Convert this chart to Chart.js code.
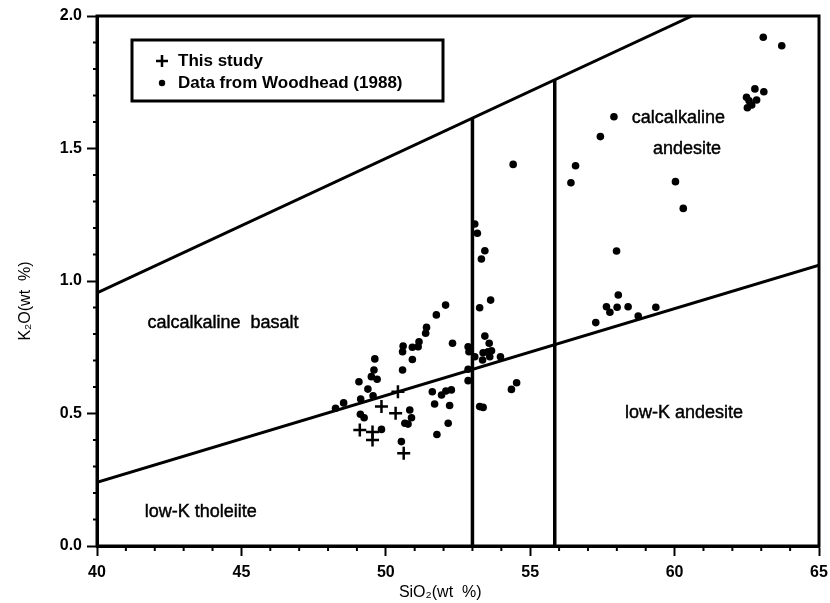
<!DOCTYPE html>
<html><head><meta charset="utf-8">
<script src="https://cdn.jsdelivr.net/npm/chart.js@4.4.0/dist/chart.umd.min.js"></script>
<style>html,body{margin:0;padding:0;background:#fff}canvas{display:block}</style>
</head><body>
<canvas id="c" width="830" height="603"></canvas>
<script>
// ---- data ----
const woodheadSiO2 = [
  48.26,48.54,49.13,49.07,49.38,49.56,49.12,49.25,49.85,49.50,49.70,49.59,49.62,
  50.58,50.92,50.58,50.60,50.92,51.12,51.15,51.38,51.41,51.75,52.07,52.31,
  50.83,50.89,50.66,50.77,50.54,51.61,51.93,52.08,52.27,51.69,52.21,52.16,51.77,
  53.08,53.17,53.43,53.31,53.63,53.25,53.43,53.58,52.85,52.88,53.37,53.54,53.66,
  53.60,53.35,53.97,53.08,52.85,52.85,54.53,54.35,53.25,53.37,54.41,
  57.90,57.43,56.57,56.41,60.03,60.30,57.99,58.05,63.07,63.71,62.78,63.09,62.49,
  62.58,62.84,62.52,62.67,57.64,57.76,58.01,58.39,58.74,59.35,57.27
];
const woodheadK2O = [
  0.520,0.540,0.555,0.620,0.592,0.567,0.497,0.484,0.440,0.639,0.629,0.664,0.706,
  0.664,0.704,0.733,0.755,0.750,0.752,0.771,0.803,0.825,0.872,0.909,0.765,
  0.513,0.484,0.463,0.460,0.394,0.582,0.570,0.585,0.589,0.536,0.530,0.463,0.421,
  1.215,1.180,1.114,1.083,0.928,0.899,0.792,0.765,0.752,0.733,0.729,0.733,0.737,
  0.714,0.702,0.714,0.714,0.667,0.624,0.616,0.591,0.526,0.523,1.440,
  1.620,1.545,1.435,1.371,1.375,1.274,1.113,0.947,1.920,1.888,1.725,1.714,1.693,
  1.680,1.683,1.654,1.664,0.903,0.882,0.901,0.903,0.868,0.901,0.843
];
const studySiO2 = [50.42,49.85,50.34,49.10,49.54,49.54,50.62];
const studyK2O  = [0.582,0.526,0.501,0.438,0.430,0.400,0.350];

// boundary lines of the classification diagram
const upperLineSiO2 = [40, 60.6];
const upperLineK2O  = [0.955, 2.0];
const lowerLineSiO2 = [40, 65];
const lowerLineK2O  = [0.24, 1.06];
const basaltLimitSiO2 = [53.0, 53.0];
const basaltLimitK2O  = [0, 1.615];
const andesiteLimitSiO2 = [55.85, 55.85];
const andesiteLimitK2O  = [0, 1.758];

const xTickLabels = [40, 45, 50, 55, 60, 65];
const yTickLabels = ['0.0', '0.5', '1.0', '1.5', '2.0'];
const regionNames = ['calcalkaline  basalt', 'low-K tholeiite', 'calcalkaline', 'andesite', 'low-K andesite'];
const regionSiO2  = [41.75, 41.65, 58.52, 59.25, 58.28];
const regionK2O   = [0.842, 0.128, 1.615, 1.498, 0.502];

const seriesNames = ['This study', 'Data from Woodhead (1988)'];

// ---- build ----
const pts = (xs, ys) => xs.map((x, i) => ({x, y: ys[i]}));
const FONT = "'Liberation Sans', Arial, Helvetica, sans-serif";
Chart.defaults.font.family = FONT;
Chart.defaults.color = '#000';

const lineDs = (xs, ys, w) => ({
  type: 'line', data: pts(xs, ys), showLine: true, borderColor: '#000',
  borderWidth: w, pointRadius: 0, fill: false, tension: 0, order: 3
});

const minorTicks = {
  id: 'minorTicks',
  afterDraw(chart) {
    const {ctx, chartArea: a, scales: {x, y}} = chart;
    ctx.save();
    ctx.strokeStyle = '#000';
    ctx.lineWidth = 3;
    ctx.strokeRect(a.left, a.top, a.right - a.left, a.bottom - a.top);
    ctx.lineWidth = 2;
    for (let v = 41; v < 65; v++) {
      if (v % 5 === 0) continue;
      const px = x.getPixelForValue(v);
      ctx.beginPath(); ctx.moveTo(px, a.bottom); ctx.lineTo(px, a.bottom + 5); ctx.stroke();
    }
    for (let k = 1; k < 20; k++) {
      if (k % 5 === 0) continue;
      const py = y.getPixelForValue(k / 10);
      ctx.beginPath(); ctx.moveTo(a.left, py); ctx.lineTo(a.left - 4, py); ctx.stroke();
    }
    // region labels
    ctx.fillStyle = '#000';
    ctx.font = '18px ' + FONT;
    ctx.textBaseline = 'middle';
    ctx.textAlign = 'left';
    ctx.lineWidth = 0.45;
    regionNames.forEach((t, i) => {
      const px = x.getPixelForValue(regionSiO2[i]), py = y.getPixelForValue(regionK2O[i]);
      ctx.fillText(t, px, py);
      ctx.strokeText(t, px, py);
    });
    // legend box
    const lx = a.left + 35, ly = a.top + 24, lw = 311, lh = 61;
    ctx.lineWidth = 3;
    ctx.strokeRect(lx, ly, lw, lh);
    ctx.font = 'bold 17px ' + FONT;
    const sx = lx + 30;
    ctx.lineWidth = 2.5;
    ctx.beginPath();
    ctx.moveTo(sx - 6, ly + 21); ctx.lineTo(sx + 6, ly + 21);
    ctx.moveTo(sx, ly + 15); ctx.lineTo(sx, ly + 27);
    ctx.stroke();
    ctx.fillText(seriesNames[0], lx + 46, ly + 21);
    ctx.beginPath(); ctx.arc(sx, ly + 43, 3.2, 0, Math.PI * 2); ctx.fill();
    ctx.fillText(seriesNames[1], lx + 46, ly + 43);
    ctx.restore();
  }
};

new Chart(document.getElementById('c'), {
  type: 'scatter',
  data: {
    datasets: [
      {label: seriesNames[0], data: pts(studySiO2, studyK2O), pointStyle: 'cross',
       pointRadius: 6.5, pointBorderWidth: 2.5, borderColor: '#000', backgroundColor: '#000', order: 1},
      {label: seriesNames[1], data: pts(woodheadSiO2, woodheadK2O), pointStyle: 'circle',
       pointRadius: 3.8, pointBorderWidth: 0, borderColor: '#000', backgroundColor: '#000', order: 2},
      lineDs(upperLineSiO2, upperLineK2O, 3),
      lineDs(lowerLineSiO2, lowerLineK2O, 3),
      lineDs(basaltLimitSiO2, basaltLimitK2O, 3.5),
      lineDs(andesiteLimitSiO2, andesiteLimitK2O, 3.5)
    ]
  },
  options: {
    responsive: false,
    animation: false,
    layout: {padding: {left: 0, right: 11, top: 16, bottom: 0}},
    plugins: {legend: {display: false}, tooltip: {enabled: false}},
    scales: {
      x: {
        type: 'linear', min: 40, max: 65,
        afterBuildTicks: s => { s.ticks = xTickLabels.map(v => ({value: v})); },
        ticks: {font: {size: 16, weight: 'bold'}, padding: 7, color: '#000', maxRotation: 0,
                callback: v => String(v)},
        grid: {drawOnChartArea: false, tickLength: 10, tickWidth: 2, tickColor: '#000'},
        border: {display: true, width: 3, color: '#000'},
        title: {display: true, text: 'SiO\u2082(wt  %)        ', font: {size: 16}, padding: {top: 0, bottom: 1}, color: '#000'},
        afterFit: s => { s.height = 57; s.paddingLeft = 0; s.paddingRight = 0; }
      },
      y: {
        type: 'linear', min: 0, max: 2,
        afterBuildTicks: s => { s.ticks = yTickLabels.map(v => ({value: parseFloat(v)})); },
        ticks: {font: {size: 16, weight: 'bold'}, padding: 5, color: '#000',
                callback: (v, i) => yTickLabels[i]},
        grid: {drawOnChartArea: false, tickLength: 10, tickWidth: 2, tickColor: '#000'},
        border: {display: true, width: 3, color: '#000'},
        title: {display: true, text: 'K\u2082O(wt  %)         ', font: {size: 16}, padding: {top: 16, bottom: 0}, color: '#000'},
        afterFit: s => { s.width = 97; s.paddingTop = 0; s.paddingBottom = 0; }
      }
    }
  },
  plugins: [minorTicks]
});
</script>
</body></html>
